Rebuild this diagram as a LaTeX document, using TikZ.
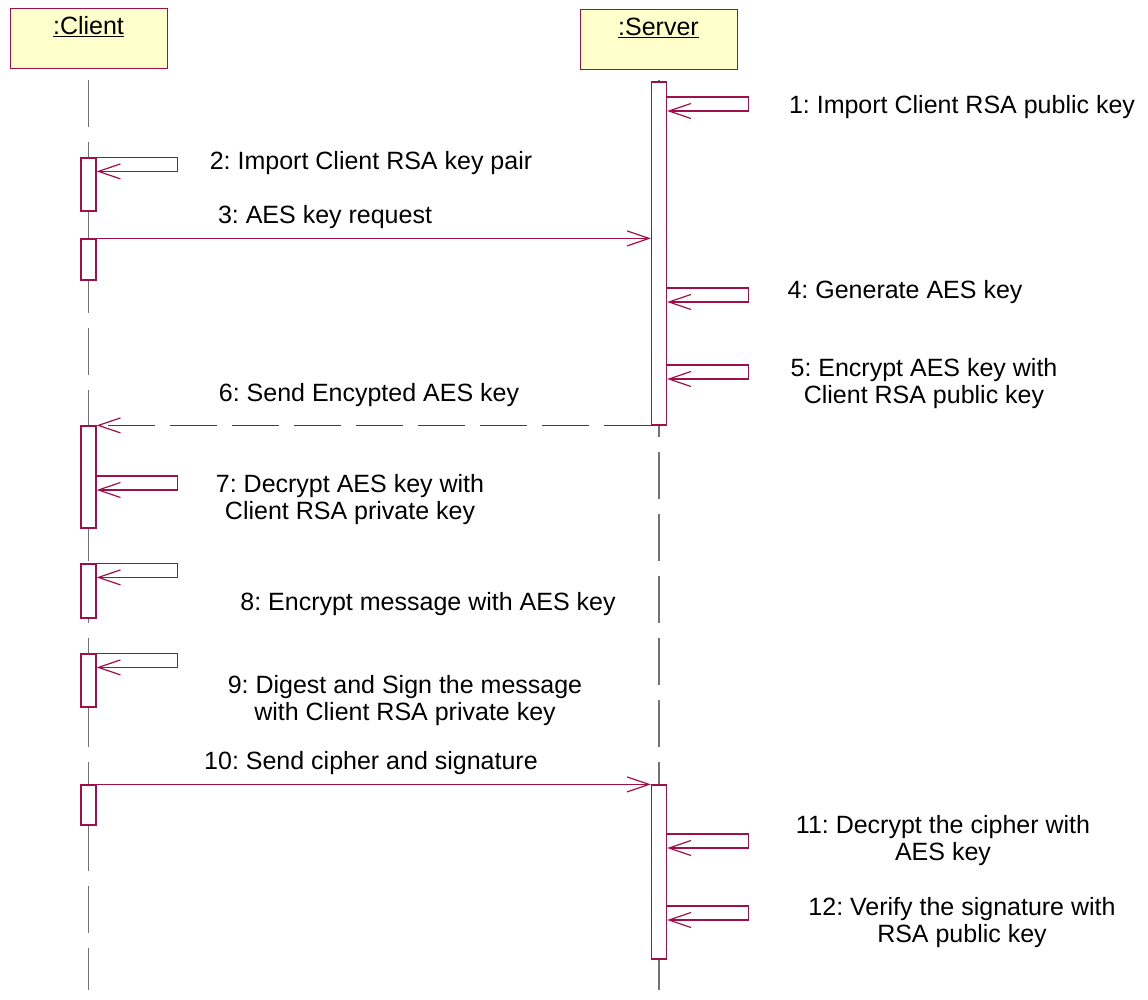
\documentclass[tikz,border=0pt]{standalone}
\usepackage{fontspec}
\setmainfont{Liberation Sans}
\frenchspacing
\usetikzlibrary{arrows.meta}
\definecolor{umlred}{RGB}{160,16,72}
\definecolor{umlyellow}{RGB}{255,255,204}
\tikzstyle{object} = [draw=umlred, fill=umlyellow, line width=1pt, minimum width=157pt, minimum height=60pt, inner sep=0pt]
\tikzstyle{bar} = [draw=umlred, fill=white, line width=1.2pt, minimum width=15pt, inner sep=0pt]
\tikzstyle{lifeline} = [draw=black!55, line width=1.5pt, dash pattern=on 47pt off 15pt]
\tikzstyle{msg} = [draw=umlred, line width=1.2pt, -{Straight Barb[length=22pt,width=15pt]}]
\tikzstyle{reply} = [msg, dash pattern=on 47pt off 15pt]
\tikzstyle{txt} = [font=\fontsize{25}{27}\selectfont, align=center, inner sep=0pt]

\begin{document}
\begin{tikzpicture}[x=1pt,y=-1pt]
\useasboundingbox (0,0) rectangle (1148,1000);

% objects
\node[object] (client) at (88.5,39) {};
\node[object] (server) at (658.5,40) {};
\node[txt] (clientname) at ([yshift=-18pt]client.north) {\underline{:Client}};
\node[txt] (servername) at ([yshift=-18pt]server.north) {\underline{:Server}};

% lifelines
\coordinate (ctop) at (88.5,80);
\coordinate (cbot) at (88.5,990);
\coordinate (stop) at (659,80);
\coordinate (sbot) at (659,990);
\draw[lifeline] (ctop) -- (cbot);
\draw[lifeline] (stop) -- (sbot);

% activation bars
\node[bar, minimum height=53pt] (cb1) at (88.5,184.5) {};
\node[bar, minimum height=41pt] (cb2) at (88.5,259.5) {};
\node[bar, minimum height=102pt] (cb3) at (88.5,477) {};
\node[bar, minimum height=54pt] (cb4) at (88.5,591) {};
\node[bar, minimum height=53pt] (cb5) at (88.5,680.5) {};
\node[bar, minimum height=40pt] (cb6) at (88.5,805) {};
\node[bar, minimum height=343pt] (sb1) at (659,253.5) {};
\node[bar, minimum height=174pt] (sb2) at (659,872) {};

% messages
\draw[msg] (sb1.east |- 0,97) -- ++(81,0) -- ++(0,14) -- (sb1.east |- 0,111);
\draw[msg] (cb1.north east) -- ++(81,0) -- ++(0,14) -- ([yshift=-14pt]cb1.north east);
\draw[msg] (cb2.north east) -- (cb2.north east -| sb1.west);
\draw[msg] (sb1.east |- 0,288) -- ++(81,0) -- ++(0,14) -- (sb1.east |- 0,302);
\draw[msg] (sb1.east |- 0,365) -- ++(81,0) -- ++(0,14) -- (sb1.east |- 0,379);
\draw[reply] (cb3.north east -| sb1.west) -- (cb3.north east);
\draw[msg] (cb3.east |- 0,476) -- ++(81,0) -- ++(0,14) -- (cb3.east |- 0,490);
\draw[msg] (cb4.north east) -- ++(81,0) -- ++(0,14) -- ([yshift=-14pt]cb4.north east);
\draw[msg] (cb5.north east) -- ++(81,0) -- ++(0,14) -- ([yshift=-14pt]cb5.north east);
\draw[msg] (cb6.north east) -- (sb2.north west);
\draw[msg] (sb2.east |- 0,834) -- ++(81,0) -- ++(0,14) -- (sb2.east |- 0,848);
\draw[msg] (sb2.east |- 0,906) -- ++(81,0) -- ++(0,14) -- (sb2.east |- 0,920);

% labels
\node[txt] (l1) at (962,107) {1: Import Client RSA public key};
\node[txt] (l2) at (371,163) {2: Import Client RSA key pair};
\node[txt] (l3) at (325,217) {3: AES key request};
\node[txt] (l4) at (905,292) {4: Generate AES key};
\node[txt] (l5) at (924,383.5) {5: Encrypt AES key with\\Client RSA public key};
\node[txt] (l6) at (369,395) {6: Send Encypted AES key};
\node[txt] (l7) at (350,499.5) {7: Decrypt AES key with\\Client RSA private key};
\node[txt] (l8) at (428,604) {8: Encrypt message with AES key};
\node[txt] (l9) at (405,701) {9: Digest and Sign the message\\with Client RSA private key};
\node[txt] (l10) at (371,763) {10: Send cipher and signature};
\node[txt] (l11) at (943,841) {11: Decrypt the cipher with\\AES key};
\node[txt] (l12) at (962,922.5) {12: Verify the signature with\\RSA public key};
\end{tikzpicture}
\end{document}
